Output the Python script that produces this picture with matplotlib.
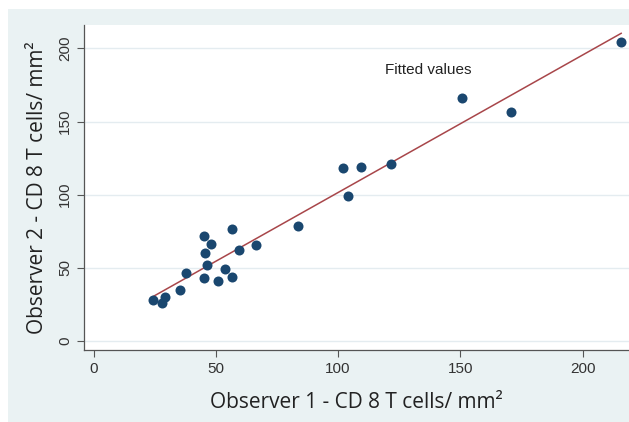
import numpy as np
import matplotlib
matplotlib.use('Agg')
import matplotlib.pyplot as plt
from matplotlib.patches import Rectangle

# Observer readings (CD8 T cells / mm2)
obs1 = [24.2, 29.1, 28.1, 35.2, 37.8, 45.2, 48.0, 45.6, 46.5, 45.2, 51.1, 53.8,
        56.8, 56.7, 59.5, 66.4, 83.5, 102.0, 109.4, 121.6, 104.1, 150.7, 170.9, 215.8]
obs2 = [28.1, 29.7, 25.8, 34.7, 46.6, 71.9, 66.6, 60.3, 51.8, 42.9, 41.3, 49.5,
        43.4, 76.7, 62.1, 65.3, 78.3, 118.0, 118.7, 121.2, 99.3, 166.4, 156.2, 204.1]
xticks = [0, 50, 100, 150, 200]
yticks = [0, 50, 100, 150, 200]

x = np.array(obs1)
y = np.array(obs2)
slope, intercept = np.polyfit(x, y, 1)
xs = np.array([x.min(), x.max()])

W, H = 629, 422
fig = plt.figure(figsize=(W / 100, H / 100), dpi=100, facecolor='white')
# stata-like outer background
fig.patches.append(Rectangle((8 / W, 0), 1, 1 - 9 / H, transform=fig.transFigure,
                             facecolor='#eaf2f3', edgecolor='none', zorder=-5))

ax = fig.add_axes([84 / W, 1 - 350 / H, (W - 84) / W, (350 - 25) / H])
ax.set_facecolor('white')

ax.plot(xs, intercept + slope * xs, color='#a8464a', lw=1.1, zorder=2)
ax.scatter(x, y, s=52, color='#1a476f', zorder=3, linewidths=0)

ax.text(119.4, 185, 'Fitted values', fontsize=11, family='Liberation Sans',
        color='#222222', va='center')

ax.set_xlim(-3.9, 219)
ax.set_ylim(-6.2, 216)
ax.set_xticks(xticks)
ax.set_yticks(yticks)
ax.grid(axis='y', color='#e4ecf0', lw=1)
ax.set_axisbelow(True)
for s in ['top', 'right']:
    ax.spines[s].set_visible(False)
for s in ['left', 'bottom']:
    ax.spines[s].set_color('#555555')
    ax.spines[s].set_linewidth(0.9)
ax.tick_params(direction='out', length=5, color='#555555', labelsize=11,
               labelcolor='#333333')
for lab in ax.get_xticklabels() + ax.get_yticklabels():
    lab.set_family('Liberation Sans')
plt.setp(ax.get_yticklabels(), rotation=90, va='center')

ax.set_xlabel('Observer 1 - CD 8 T cells/ mm²', fontsize=15, family='Open Sans',
              color='#222222', labelpad=12)
ax.set_ylabel('Observer 2 - CD 8 T cells/ mm²', fontsize=15, family='Open Sans',
              color='#222222', labelpad=7)

fig.savefig('out.png', dpi=100, facecolor='white')
